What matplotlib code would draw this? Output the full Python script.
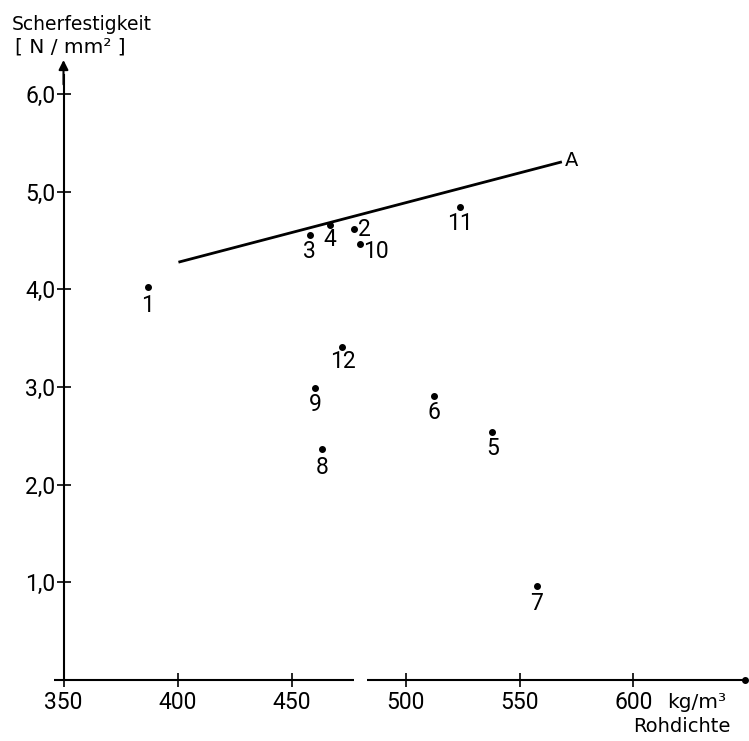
import matplotlib
matplotlib.use("Agg")
import matplotlib.pyplot as plt
from matplotlib import font_manager as fm

def pick(fams):
    for f in fams:
        try:
            fm.findfont(fm.FontProperties(family=f), fallback_to_default=False)
            return f
        except Exception:
            pass
    return "DejaVu Sans"

DIGIT_FONT = pick(["Liberation Sans Narrow", "Roboto", "Liberation Sans", "DejaVu Sans"])
TEXT_FONT = "DejaVu Sans"

# ---- data ----
labels = ["1", "2", "3", "4", "5", "6", "7", "8", "9", "10", "11", "12"]
density = [387, 477.5, 458, 467, 538, 512.5, 557.5, 463.5, 460.5, 480, 524, 472]
shear = [4.02, 4.62, 4.55, 4.66, 2.54, 2.91, 0.96, 2.36, 2.99, 4.46, 4.84, 3.41]
line_a_x = [401, 568]
line_a_y = [4.28, 5.30]
x_ticks = [350, 400, 450, 500, 550, 600]
y_ticks = [1.0, 2.0, 3.0, 4.0, 5.0, 6.0]
y_tick_labels = ["1,0", "2,0", "3,0", "4,0", "5,0", "6,0"]

# label offsets (pixels, dx, dy) relative to point; positive dy up
offsets = {
    "1": (0, -18), "2": (10, -1), "3": (0, -16), "4": (0, -15), "5": (1, -17),
    "6": (0, -17), "7": (0, -17), "8": (0, -18), "9": (0, -17), "10": (16, -7),
    "11": (0, -16), "12": (1, -15),
}

W, H = 749, 741
fig = plt.figure(figsize=(W / 100, H / 100), dpi=100)
x0_px, y0_px = 63.5, 680
xr_px, yt_px = 745, 60
ppx = 2.28   # px per kg/m3
ppy = 97.7   # px per N/mm2
ax = fig.add_axes([x0_px / W, (H - y0_px) / H, (xr_px - x0_px) / W, (y0_px - yt_px) / H])
xmax = 350 + (xr_px - x0_px) / ppx
ymax = (y0_px - yt_px) / ppy
ax.set_xlim(350, xmax)
ax.set_ylim(0, ymax)
for s in ["top", "right", "bottom"]:
    ax.spines[s].set_visible(False)
ax.spines["left"].set_linewidth(1.5)
ax.spines["left"].set_bounds(0, ymax - 0.15)

# x-axis line with small gap
ax.plot([346, 477.5], [0, 0], color="k", lw=1.5, clip_on=False, solid_capstyle="butt")
ax.plot([483, xmax], [0, 0], color="k", lw=1.5, clip_on=False, solid_capstyle="butt")
ax.plot([xmax], [0], "o", color="k", ms=4, clip_on=False)
# arrow at top of y axis
ax.annotate("", xy=(350, ymax), xytext=(350, ymax - 0.25),
            arrowprops=dict(arrowstyle="-|>", color="k", lw=1.5,
                            mutation_scale=14, shrinkA=0, shrinkB=0),
            annotation_clip=False)

ax.set_xticks(x_ticks)
ax.set_xticklabels([str(v) for v in x_ticks])
ax.set_yticks(y_ticks)
ax.set_yticklabels(y_tick_labels)
ax.tick_params(direction="inout", length=10, width=1.2, color="k")
ax.tick_params(axis="x", pad=3)
ax.tick_params(axis="y", pad=1)
for t in ax.get_xticklabels() + ax.get_yticklabels():
    t.set_fontfamily(DIGIT_FONT)
    t.set_fontsize(16.5)

# regression line A
ax.plot(line_a_x, line_a_y, color="k", lw=2)
ax.text(line_a_x[1] + 2, line_a_y[1] + 0.02, "A", fontsize=14, family=TEXT_FONT,
        ha="left", va="center")

# points
ax.plot(density, shear, "o", color="k", ms=4, linestyle="none")
for lab, x, y in zip(labels, density, shear):
    dx, dy = offsets[lab]
    ax.annotate(lab, (x, y), xytext=(dx * 0.72, dy * 0.72), textcoords="offset points",
                ha="center", va="center", fontsize=16.5, family=DIGIT_FONT)

# axis titles
fig.text(12 / W, 1 - 24 / H, "Scherfestigkeit", fontsize=13.5, family=TEXT_FONT,
         ha="left", va="center")
fig.text(15 / W, 1 - 47 / H, "[ N / mm\u00b2 ]", fontsize=14.5, family=TEXT_FONT,
         ha="left", va="center")
fig.text(667 / W, 1 - 702 / H, "kg/m\u00b3", fontsize=14.5, family=TEXT_FONT,
         ha="left", va="center")
fig.text(633 / W, 1 - 726 / H, "Rohdichte", fontsize=14, family=TEXT_FONT,
         ha="left", va="center")

fig.savefig("out.png", dpi=100)
